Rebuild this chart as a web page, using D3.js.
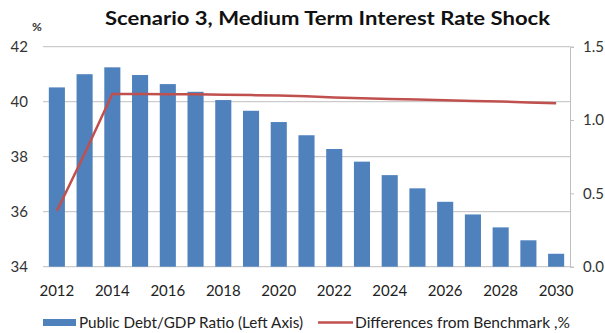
<!DOCTYPE html>
<html><head><meta charset="utf-8">
<script src="https://cdn.jsdelivr.net/npm/d3@7"></script>
<style>body{margin:0;background:#fff}svg{display:block}</style>
</head><body>
<script>
const years = [2012,2013,2014,2015,2016,2017,2018,2019,2020,2021,2022,2023,2024,2025,2026,2027,2028,2029,2030];
const debtRatio = [40.52,41.0,41.25,40.97,40.64,40.36,40.06,39.67,39.26,38.78,38.28,37.82,37.33,36.85,36.36,35.9,35.43,34.96,34.47];
const diffBenchmark = [0.38,0.77,1.177,1.177,1.176,1.175,1.172,1.17,1.168,1.162,1.154,1.148,1.143,1.14,1.135,1.13,1.126,1.12,1.115];
const leftTicks = [34,36,38,40,42];
const rightTicks = [0,0.5,1.0,1.5];
const xLabelYears = [2012,2014,2016,2018,2020,2022,2024,2026,2028,2030];
const titleText = "Scenario 3, Medium Term Interest Rate Shock";
const legendLabels = ["Public Debt/GDP Ratio (Left Axis)", "Differences from Benchmark ,%"];

const W = 605, H = 333;
const m = {left:43, right:570, top:46.7, bottom:266.7};
const font = "Lato, 'Open Sans', sans-serif";
const svg = d3.select("body").append("svg").attr("width", W).attr("height", H);

const x = d3.scaleBand().domain(years).range([m.left, m.right]).paddingInner(0.42).paddingOuter(0.21);
const yL = d3.scaleLinear().domain([34,42]).range([m.bottom, m.top]);
const yR = d3.scaleLinear().domain([0,1.5]).range([m.bottom, m.top]);

// gridlines
svg.append("g").selectAll("line").data(leftTicks).join("line")
  .attr("x1", m.left).attr("x2", m.right)
  .attr("y1", d=>yL(d)).attr("y2", d=>yL(d))
  .attr("stroke", "#bfbfbf").attr("stroke-width", 1);

// left labels
svg.append("g").selectAll("text").data(leftTicks).join("text")
  .attr("x", 28).attr("y", d=>yL(d)).attr("dy", "0.36em")
  .attr("text-anchor", "end").attr("font-family", font).attr("font-size", 15)
  .attr("fill", "#333").text(d=>d);

// right axis
const rAxis = d3.axisRight(yR).tickValues(rightTicks).tickFormat(d3.format(".1f")).tickSize(4).tickPadding(9);
const rg = svg.append("g").attr("transform", `translate(${m.right},0)`).call(rAxis);
rg.select(".domain").attr("stroke", "#bfbfbf");
rg.selectAll(".tick line").attr("stroke", "#bfbfbf");
rg.selectAll(".tick text").attr("font-family", font).attr("font-size", 15).attr("fill", "#333");

// bars
svg.append("g").selectAll("rect").data(years).join("rect")
  .attr("x", d=>x(d)).attr("width", x.bandwidth())
  .attr("y", (d,i)=>yL(debtRatio[i])).attr("height", (d,i)=>yL(34)-yL(debtRatio[i]))
  .attr("fill", "#4f81bd");

// line
const line = d3.line().x((d,i)=>x(years[i])+x.bandwidth()/2).y(d=>yR(d));
svg.append("path").datum(diffBenchmark).attr("d", line)
  .attr("fill", "none").attr("stroke", "#c0504d").attr("stroke-width", 2.5).attr("stroke-linejoin","round");

// x labels
svg.append("g").selectAll("text").data(xLabelYears).join("text")
  .attr("x", d=>x(d)+x.bandwidth()/2).attr("y", 296)
  .attr("text-anchor", "middle").attr("font-family", font).attr("font-size", 15)
  .attr("fill", "#222").text(d=>d);

// title
svg.append("text").attr("x", 105).attr("y", 25)
  .attr("font-family", font).attr("font-weight", "bold").attr("font-size", 19.5)
  .attr("textLength", 445).attr("lengthAdjust", "spacingAndGlyphs")
  .attr("fill", "#111").text(titleText);
svg.append("text").attr("x", 37).attr("y", 31).attr("text-anchor", "middle")
  .attr("font-family", font).attr("font-size", 12).attr("font-weight","bold").attr("fill", "#333").text("%");

// legend
const lg = svg.append("g");
lg.append("rect").attr("x", 43).attr("y", 319).attr("width", 33).attr("height", 7).attr("fill", "#4f81bd");
lg.append("text").attr("x", 79).attr("y", 328).attr("font-family", font).attr("font-size", 15)
  .attr("textLength", 224).attr("lengthAdjust", "spacingAndGlyphs").attr("fill", "#222").text(legendLabels[0]);
lg.append("line").attr("x1", 318).attr("x2", 353).attr("y1", 322.5).attr("y2", 322.5).attr("stroke", "#c0504d").attr("stroke-width", 2.5);
lg.append("text").attr("x", 355).attr("y", 328).attr("font-family", font).attr("font-size", 15)
  .attr("textLength", 215).attr("lengthAdjust", "spacingAndGlyphs").attr("fill", "#222").text(legendLabels[1]);
</script>
</body></html>
